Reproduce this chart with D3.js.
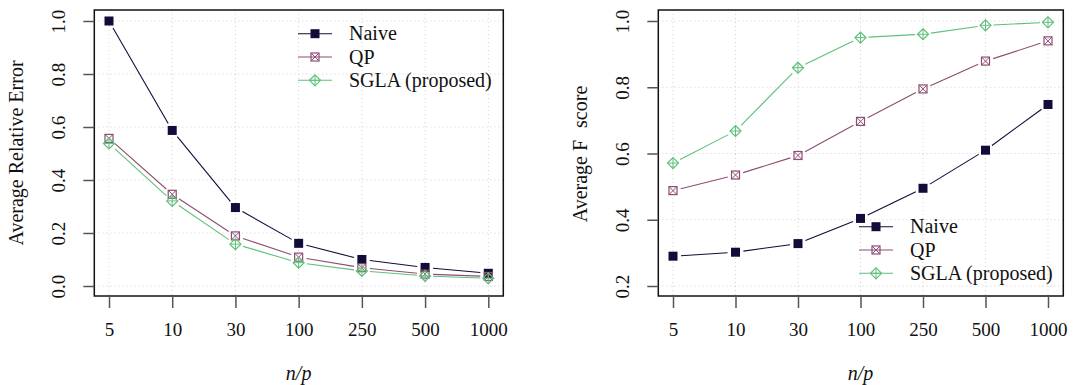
<!DOCTYPE html>
<html>
<head>
<meta charset="utf-8">
<script src="https://cdn.jsdelivr.net/npm/d3@7"></script>
<style>
  body { margin: 0; background: #fff; }
  svg text { font-family: "Liberation Serif", "DejaVu Serif", serif; fill: #111; }
</style>
</head>
<body>
<svg id="chart" width="1091" height="385"></svg>
<script>
// categories on the x axis (n/p)
const ratios = ["5", "10", "30", "100", "250", "500", "1000"];

// left panel: average relative error
const errNaive = [1.0, 0.587, 0.296, 0.161, 0.10, 0.070, 0.048];
const errQP    = [0.557, 0.346, 0.189, 0.109, 0.069, 0.045, 0.036];
const errSGLA  = [0.538, 0.321, 0.158, 0.088, 0.057, 0.038, 0.029];

// right panel: average F1 score
const f1Naive = [0.290, 0.302, 0.328, 0.404, 0.495, 0.610, 0.748];
const f1QP    = [0.488, 0.535, 0.594, 0.697, 0.795, 0.879, 0.940];
const f1SGLA  = [0.571, 0.668, 0.859, 0.950, 0.960, 0.987, 0.996];

const errTicks = [0, 0.2, 0.4, 0.6, 0.8, 1.0];
const f1Ticks  = [0.2, 0.4, 0.6, 0.8, 1.0];

const seriesNames = ["Naive", "QP", "SGLA (proposed)"];
const colors = { "Naive": "#110c3a", "QP": "#8e4c72", "SGLA (proposed)": "#5fc07a" };
const shapes = { "Naive": "filled", "QP": "boxx", "SGLA (proposed)": "diamond" };

const svg = d3.select("#chart");

function drawMarker(g, shape, color, cx, cy) {
    if (shape === "filled") {
        g.append("rect").attr("x", cx - 4.5).attr("y", cy - 4.5)
            .attr("width", 9).attr("height", 9).attr("fill", color);
    } else if (shape === "boxx") {
        g.append("rect").attr("x", cx - 4).attr("y", cy - 4)
            .attr("width", 8).attr("height", 8)
            .attr("fill", "none").attr("stroke", color).attr("stroke-width", 1.2);
        g.append("path")
            .attr("d", `M${cx - 4},${cy - 4}L${cx + 4},${cy + 4}M${cx + 4},${cy - 4}L${cx - 4},${cy + 4}`)
            .attr("stroke", color).attr("stroke-width", 1);
    } else {
        g.append("path")
            .attr("d", `M${cx},${cy - 5.5}L${cx + 5.5},${cy}L${cx},${cy + 5.5}L${cx - 5.5},${cy}Z`)
            .attr("fill", "none").attr("stroke", color).attr("stroke-width", 1.2);
        g.append("path")
            .attr("d", `M${cx},${cy - 5.5}L${cx},${cy + 5.5}M${cx - 5.5},${cy}L${cx + 5.5},${cy}`)
            .attr("stroke", color).attr("stroke-width", 1);
    }
}

function drawPanel(p) {
    const g = svg.append("g");
    const x = d3.scalePoint().domain(ratios).range([p.x0, p.x1]);
    const y = d3.scaleLinear().domain(p.ydomain).range([p.ybottom, p.ytop]);

    // dotted grid
    g.selectAll(".vgrid").data(ratios).enter().append("line")
        .attr("x1", d => x(d)).attr("x2", d => x(d))
        .attr("y1", p.boxTop).attr("y2", p.boxBottom)
        .attr("stroke", "#d0d0d0").attr("stroke-dasharray", "1,3");
    g.selectAll(".hgrid").data(p.yticks).enter().append("line")
        .attr("x1", p.boxLeft).attr("x2", p.boxRight)
        .attr("y1", d => y(d)).attr("y2", d => y(d))
        .attr("stroke", "#d0d0d0").attr("stroke-dasharray", "1,3");

    // lines with gaps around markers, then markers
    p.series.forEach(s => {
        const color = colors[s.name];
        const pts = s.values.map((v, i) => [x(ratios[i]), y(v)]);
        for (let i = 0; i < pts.length - 1; i++) {
            const [ax, ay] = pts[i], [bx, by] = pts[i + 1];
            const len = Math.hypot(bx - ax, by - ay);
            const gap = 8;
            if (len <= 2 * gap) continue;
            const ux = (bx - ax) / len, uy = (by - ay) / len;
            g.append("line")
                .attr("x1", ax + ux * gap).attr("y1", ay + uy * gap)
                .attr("x2", bx - ux * gap).attr("y2", by - uy * gap)
                .attr("stroke", color).attr("stroke-width", 1.1);
        }
        pts.forEach(pt => drawMarker(g, shapes[s.name], color, pt[0], pt[1]));
    });

    // box
    g.append("rect")
        .attr("x", p.boxLeft).attr("y", p.boxTop)
        .attr("width", p.boxRight - p.boxLeft).attr("height", p.boxBottom - p.boxTop)
        .attr("fill", "none").attr("stroke", "#111").attr("stroke-width", 1.5);

    // x axis
    const xAxis = d3.axisBottom(x).tickSize(12).tickPadding(15);
    const gx = g.append("g").attr("transform", `translate(0,${p.boxBottom})`).call(xAxis);
    gx.select(".domain").remove();
    gx.selectAll(".tick line").attr("stroke", "#555").attr("stroke-width", 1.5);
    gx.selectAll(".tick text").attr("font-size", 19).attr("font-family", "Liberation Serif").attr("fill", "#111");

    // y axis
    const yAxis = d3.axisLeft(y).tickValues(p.yticks).tickFormat(d3.format(".1f")).tickSize(11).tickPadding(0);
    const gy = g.append("g").attr("transform", `translate(${p.boxLeft},0)`).call(yAxis);
    gy.select(".domain").remove();
    gy.selectAll(".tick line").attr("stroke", "#555").attr("stroke-width", 1.5);
    gy.selectAll(".tick text")
        .attr("font-size", 19).attr("font-family", "Liberation Serif").attr("fill", "#111")
        .attr("x", null).attr("dy", null)
        .attr("text-anchor", "middle")
        .attr("transform", `translate(${p.ylabelX - p.boxLeft},0) rotate(-90)`)
        .attr("y", 0).attr("dominant-baseline", "middle");

    // titles
    g.append("text")
        .attr("x", (p.x0 + p.x1) / 2).attr("y", 380)
        .attr("text-anchor", "middle").attr("font-size", 20).attr("font-style", "italic")
        .text("n/p");
    const t = g.append("text")
        .attr("transform", `translate(${p.titleX},${p.titleY}) rotate(-90)`)
        .attr("text-anchor", "middle").attr("font-size", 20);
    p.ytitle.forEach((part, i) => {
        t.append("tspan").attr("dx", i === 0 ? 0 : 12).text(part);
    });

    // legend
    p.series.forEach((s, i) => {
        const ly = p.legY + i * 23.3;
        const color = colors[s.name];
        g.append("line")
            .attr("x1", p.legX).attr("x2", p.legX + 34)
            .attr("y1", ly).attr("y2", ly)
            .attr("stroke", color).attr("stroke-width", 1.1);
        drawMarker(g, shapes[s.name], color, p.legX + 17, ly);
        g.append("text")
            .attr("x", p.legX + 51).attr("y", ly + 6.5)
            .attr("font-size", 20)
            .text(s.name);
    });
}

drawPanel({
    x0: 109, x1: 488.3,
    ydomain: [0, 1], ybottom: 286, ytop: 21, yticks: errTicks,
    boxLeft: 94.3, boxRight: 503.3, boxTop: 10, boxBottom: 296,
    ylabelX: 61, titleX: 23, titleY: 153,
    ytitle: ["Average Relative Error"],
    series: [
        { name: seriesNames[0], values: errNaive },
        { name: seriesNames[1], values: errQP },
        { name: seriesNames[2], values: errSGLA }
    ],
    legX: 298, legY: 33.7
});

drawPanel({
    x0: 673, x1: 1048,
    ydomain: [0.2, 1], ybottom: 286, ytop: 21, yticks: f1Ticks,
    boxLeft: 658.3, boxRight: 1063.3, boxTop: 10, boxBottom: 296,
    ylabelX: 625, titleX: 587, titleY: 154,
    ytitle: ["Average F", "score"],
    series: [
        { name: seriesNames[0], values: f1Naive },
        { name: seriesNames[1], values: f1QP },
        { name: seriesNames[2], values: f1SGLA }
    ],
    legX: 859, legY: 226.7
});
</script>
</body>
</html>
